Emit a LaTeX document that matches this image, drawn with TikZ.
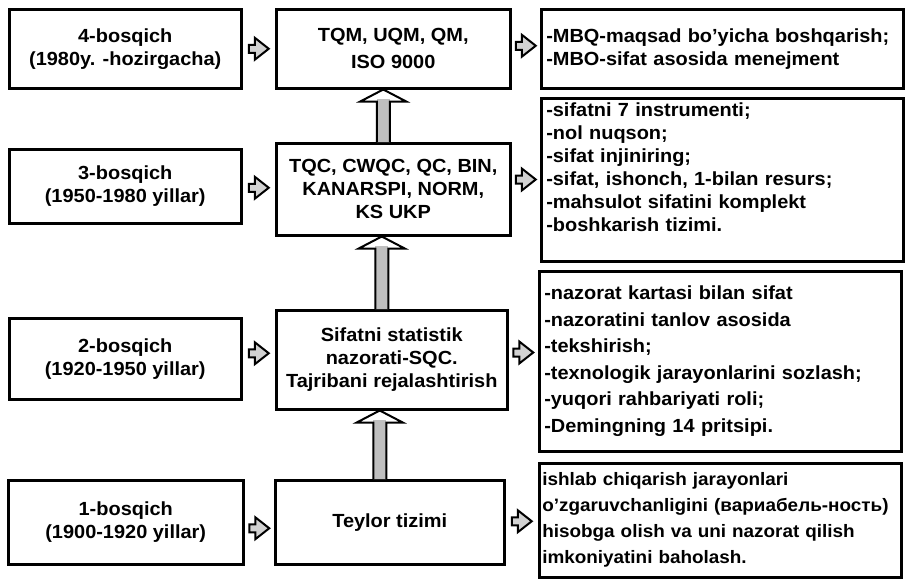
\documentclass[tikz,border=0pt]{standalone}
\usepackage{fontspec}
\setmainfont{Liberation Sans}[FakeStretch=1.05]
\usetikzlibrary{calc}
\newcommand\upArrowMD[2]{%
  \fill[white] let \p1=(#1.north), \p2=(#2.south) in
    (\x1-16.5pt,\y1) -- (\x1-16.5pt,\y2-12pt) -- (\x1-33pt,\y2-12pt) -- (\x1-10pt,\y2)
    -- (\x1+13pt,\y2-12pt) -- (\x1-3.5pt,\y2-12pt) -- (\x1-3.5pt,\y1) -- cycle;
  \fill[vshaft] let \p1=(#1.north), \p2=(#2.south) in
    (\x1-16.5pt,\y1) rectangle (\x1-3.5pt,\y2-9pt);
  \draw[voutline] let \p1=(#1.north), \p2=(#2.south) in
    (\x1-16.5pt,\y1) -- (\x1-16.5pt,\y2-12pt) -- (\x1-33pt,\y2-12pt) -- (\x1-10pt,\y2)
    -- (\x1+13pt,\y2-12pt) -- (\x1-3.5pt,\y2-12pt) -- (\x1-3.5pt,\y1);
}
\begin{document}
\begin{tikzpicture}[x=1pt,y=-1pt,
  box/.style={draw, line width=2.5pt, anchor=north west, inner sep=0pt, align=center,
    font=\fontsize{19}{23}\selectfont\bfseries},
  rbox/.style={draw, line width=2.5pt, anchor=north west, inner xsep=5pt, inner ysep=0pt,
    text width=352pt, align=left, font=\fontsize{19}{23}\selectfont\bfseries},
  harrow/.style={draw, line width=2pt, fill=gray!35, line join=miter},
  vshaft/.style={fill=gray!50},
  voutline/.style={draw, line width=2pt, line join=miter},
  harr/.pic={\draw[harrow] (-10,-4) -- (-4,-4) -- (-4,-11) -- (10,0) -- (-4,11) -- (-4,4) -- (-10,4) -- cycle;}]
\useasboundingbox[fill=white] (0,0) rectangle (906,581);

% left column
\node[box, minimum width=232pt, minimum height=79pt] (L4) at (8,8) {4-bosqich\\(1980y. -hozirgacha)};
\node[box, minimum width=232pt, minimum height=74pt] (L3) at (8,148) {3-bosqich\\(1950-1980 yillar)};
\node[box, minimum width=232pt, minimum height=81pt] (L2) at (8,317) {2-bosqich\\(1920-1950 yillar)};
\node[box, minimum width=235pt, minimum height=84pt] (L1) at (7,479) {1-bosqich\\(1900-1920 yillar)};

% middle column
\node[box, minimum width=234pt, minimum height=79pt, font=\fontsize{19}{27}\selectfont\bfseries] (M4) at (275,8) {TQM, UQM, QM,\\ISO 9000};
\node[box, minimum width=234pt, minimum height=92pt] (M3) at (275,142) {TQC, CWQC, QC, BIN,\\KANARSPI, NORM,\\KS UKP};
\node[box, minimum width=231pt, minimum height=99pt] (M2) at (275,309) {Sifatni statistik\\nazorati-SQC.\\Tajribani rejalashtirish};
\node[box, minimum width=229pt, minimum height=84pt] (M1) at (274,479) {Teylor tizimi};

% right column
\node[rbox, minimum width=360pt, minimum height=79pt] (R4) at (540,8)
  {-MBQ-maqsad bo'yicha boshqarish;\\-MBO-sifat asosida menejment};
\node[rbox, minimum width=362pt, minimum height=163pt] (R3) at (540,97)
  {\raisebox{10pt}[\height][\depth]{\begin{tabular}{@{}l@{}}-sifatni 7 instrumenti;\\-nol nuqson;\\-sifat injiniring;\\-sifat, ishonch, 1-bilan resurs;\\-mahsulot sifatini komplekt\\-boshkarish tizimi.\end{tabular}}};
\node[rbox, minimum width=362pt, minimum height=180pt, font=\fontsize{19}{26.5}\selectfont\bfseries] (R2) at (538,270)
  {-nazorat kartasi bilan sifat\\-nazoratini tanlov asosida\\-tekshirish;\\-texnologik jarayonlarini sozlash;\\-yuqori rahbariyati roli;\\-Demingning 14 pritsipi.};
\node[rbox, minimum width=362pt, minimum height=114pt, inner xsep=3pt, text width=356pt,
  font=\fontsize{18}{26}\selectfont\bfseries] (R1) at (538,462)
  {ishlab chiqarish jarayonlari\\\mbox{o'zgaruvchanligini (вариабель-ность)}\\hisobga olish va uni nazorat qilish\\imkoniyatini baholash.};

% small horizontal arrows
\pic at ($(L4.east)!0.5!(M4.west)$) {harr};
\pic at ($(L3.east)!0.5!(M3.west)$) {harr};
\pic at ($(L2.east)!0.5!(M2.west)+(0,-6)$) {harr};
\pic at ($(L1.east)!0.5!(M1.west)+(0,6)$) {harr};
\pic at ($(M4.east)!0.5!(R4.west)+(0,-3)$) {harr};
\pic at ($(M3.east)!0.5!(R3.west)+(0,-5)$) {harr};
\pic at ($(M2.east)!0.5!(R2.west)+(0,-8)$) {harr};
\pic at ($(M1.east)!0.5!(R1.west)$) {harr};

% vertical arrows
\upArrowMD{M3}{M4}
\upArrowMD{M2}{M3}
\upArrowMD{M1}{M2}
\end{tikzpicture}
\end{document}
